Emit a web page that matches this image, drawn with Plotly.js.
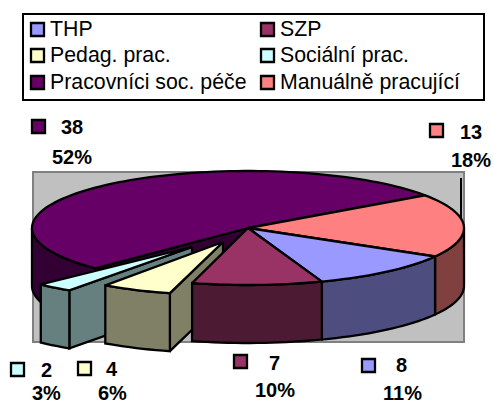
<!DOCTYPE html>
<html><head><meta charset="utf-8">
<script src="https://cdn.plot.ly/plotly-3.0.1.min.js"></script>
<style>html,body{margin:0;padding:0;background:#fff;overflow:hidden}</style>
</head><body><div id="chart" style="width:494px;height:403px"></div>
<script>
// Data, in the chart's series order
const categories = ["THP","SZP","Pedag. prac.","Sociální prac.","Pracovníci soc. péče","Manuálně pracující"];
const values = [8,7,4,2,38,13];
const percentLabels = ["11%","10%","6%","3%","52%","18%"];

// Styles
const topColors = ["#9999FF","#993366","#FFFFCC","#CCFFFF","#660066","#FF8080"];
const wallColors = ["#4D4D80","#4D1A33","#808066","#668080","#330033","#804040"];
const FONT = "Liberation Sans, Arial, sans-serif";

// Pie geometry (pixel-mapped axes)
const CX=248, CY=228, RX=216, RY=57, DEPTH=58, START=30;
const explode = {2:{dx:-25,dy:14,sx:.95,sy:.93}, 3:{dx:-56,dy:19,sx:.99,sy:.93}};
const total = values.reduce((a,b)=>a+b,0);
const slices = []; let ang = START;
values.forEach((v,i)=>{ const a0=ang, a1=ang+v/total*360; ang=a1;
  const e=explode[i]||{dx:0,dy:0,sx:1,sy:1};
  slices.push({i,a0,a1,cx:CX+e.dx,cy:CY+e.dy,rx:RX*e.sx,ry:RY*e.sy}); });
const rim=(s,a,d=0)=>{const t=a*Math.PI/180; return [s.cx+s.rx*Math.cos(t), s.cy+s.ry*Math.sin(t)+d];};
const arc=(s,a,b,d=0)=>{const n=Math.max(2,Math.ceil(Math.abs(b-a)/2)),o=[];
  for(let k=0;k<=n;k++)o.push(rim(s,a+(b-a)*k/n,d)); return o;};
const traces=[];
function poly(pts,color){ const c=pts.concat([pts[0]]);
  traces.push({type:"scatter",mode:"lines",x:c.map(p=>p[0]),y:c.map(p=>p[1]),fill:"toself",fillcolor:color,
    line:{color:"#000",width:2.3,simplify:false},hoverinfo:"skip",showlegend:false}); }
const topFace=s=>poly([[s.cx,s.cy]].concat(arc(s,s.a0,s.a1)),topColors[s.i]);
const wall=(s,a,b)=>poly(arc(s,a,b).concat(arc(s,b,a,DEPTH)),wallColors[s.i]);
const cut=(s,a)=>{const r=rim(s,a); poly([[s.cx,s.cy],r,[r[0],r[1]+DEPTH],[s.cx,s.cy+DEPTH]],wallColors[s.i]);};

const [thp,szp,ped,soc,pra,man]=slices;
cut(pra,pra.a0); wall(pra,pra.a0,180); topFace(pra);
cut(szp,szp.a1);
cut(soc,soc.a0); wall(soc,soc.a0,soc.a1); topFace(soc);
cut(ped,ped.a0); wall(ped,ped.a0,ped.a1); topFace(ped);
wall(man,360,man.a1); topFace(man);
wall(thp,thp.a0,thp.a1); topFace(thp);
wall(szp,szp.a0,szp.a1); topFace(szp);

const shapes=[
 {type:"rect",xref:"x",yref:"y",x0:33,x1:464,y0:172,y1:342,fillcolor:"#C0C0C0",line:{color:"#808080",width:2},layer:"below"},
 {type:"line",xref:"x",yref:"y",x0:461,x1:461,y0:178,y1:227,line:{color:"#000",width:2},layer:"below"},
 {type:"rect",xref:"x",yref:"y",x0:23,x1:484,y0:14,y1:100,fillcolor:"#fff",line:{color:"#000",width:2},layer:"above"}
];
const annotations=[];
const txt=(x,y,text,size,bold,anchor)=>annotations.push({xref:"x",yref:"y",x,y,text:bold?"<b>"+text+"</b>":text,showarrow:false,
  xanchor:anchor,yanchor:"middle",font:{family:FONT,size,color:"#000"},borderpad:0,captureevents:false});
const swatch=(x,y,c)=>shapes.push({type:"rect",xref:"x",yref:"y",x0:x,x1:x+13,y0:y,y1:y+13,fillcolor:c,line:{color:"#000",width:2.3},layer:"above"});

// Legend
const legendX=[31,261], legendTextX=[49,279], legendY=[29,55,82];
categories.forEach((c,i)=>{const col=i%2,row=Math.floor(i/2);
  swatch(legendX[col],legendY[row]-6,topColors[i]); txt(legendTextX[col],legendY[row],c,21.3,false,"left");});

// Data labels: swatch x, swatch y, value centre x,y, percent centre x,y
const labelPos=[[362,359,401,365,402,392.5],[234,355,274,363,275,390],[78,362,112,369,112,392.5],
                [11,363,46,370,46,392.5],[32,120,72,127,72,157],[430,124,471,132,471,160]];
labelPos.forEach((p,i)=>{ swatch(p[0],p[1],topColors[i]);
  txt(p[2],p[3],String(values[i]),20,true,"center"); txt(p[4],p[5],percentLabels[i],20,true,"center");});

Plotly.newPlot("chart",traces,{width:494,height:403,margin:{l:0,r:0,t:0,b:0,pad:0},
  paper_bgcolor:"#fff",plot_bgcolor:"#fff",showlegend:false,hovermode:false,
  xaxis:{range:[0,494],visible:false,fixedrange:true},
  yaxis:{range:[403,0],visible:false,fixedrange:true},
  shapes,annotations},{staticPlot:true,displayModeBar:false});
</script></body></html>
